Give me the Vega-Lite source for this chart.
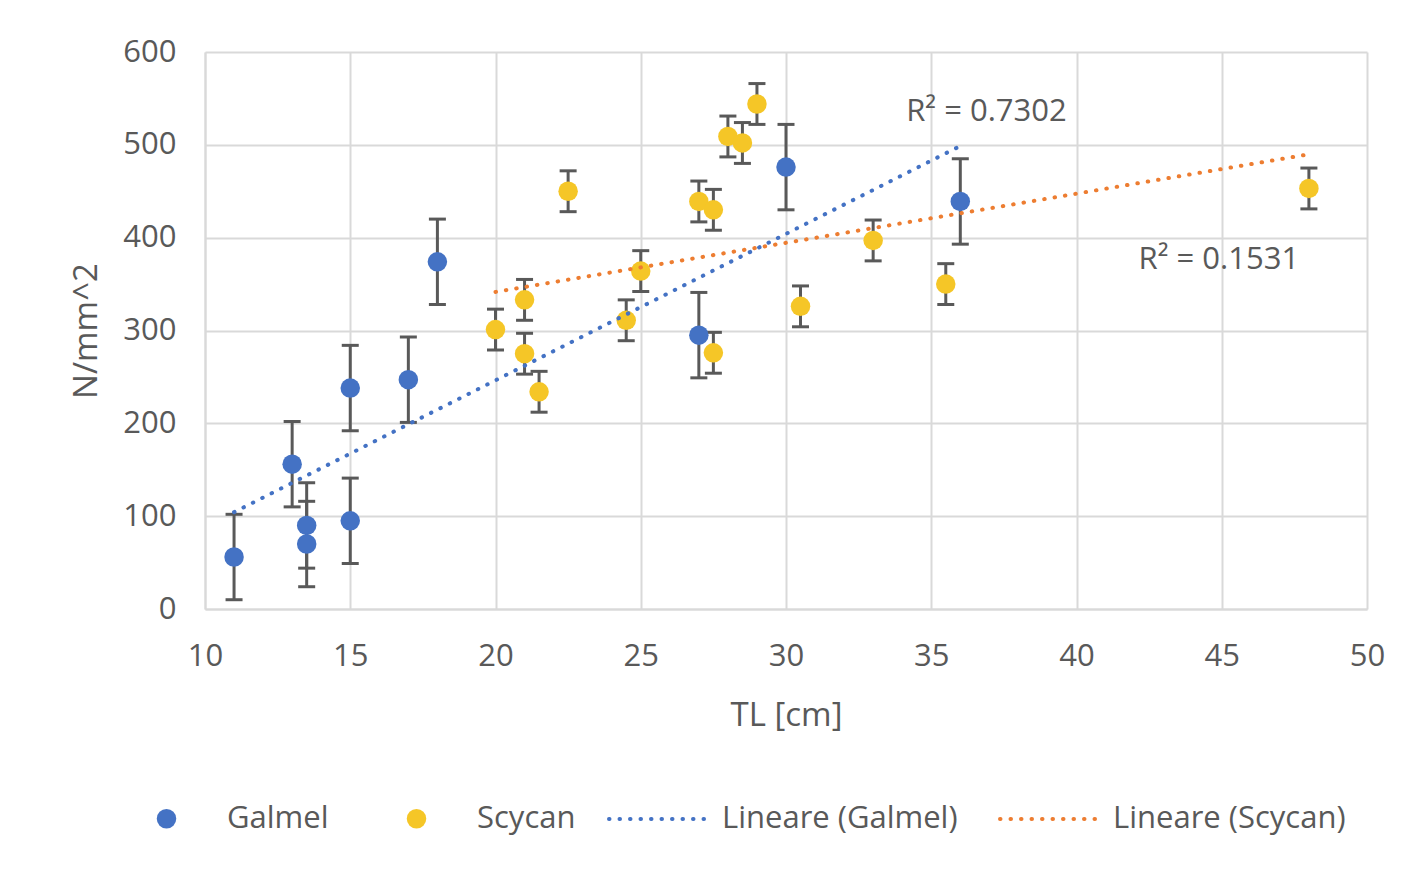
{
  "$schema": "https://vega.github.io/schema/vega-lite/v6.json",
  "autosize": "none",
  "width": 1162,
  "height": 557,
  "padding": {"left": 205, "top": 52, "right": 45, "bottom": 261},
  "background": "white",
  "config": {
    "view": {"stroke": null},
    "font": "Open Sans",
    "axis": {
      "labelFont": "Open Sans",
      "titleFont": "Open Sans",
      "labelColor": "#595959",
      "titleColor": "#595959",
      "labelFontSize": 31,
      "titleFontSize": 33,
      "titleFontWeight": "normal",
      "gridColor": "#d9d9d9",
      "gridWidth": 2,
      "domainColor": "#d9d9d9",
      "domainWidth": 2,
      "ticks": false,
      "labelFlush": false
    },
    "legend": {
      "labelFont": "Open Sans",
      "labelFontSize": 31,
      "labelColor": "#595959",
      "labelLimit": 500
    }
  },
  "datasets": {
    "pts": [
      {"series": "Galmel", "fit": "Lineare (Galmel)", "TL": 11, "val": 56, "lo": 10, "hi": 102},
      {"series": "Galmel", "fit": "Lineare (Galmel)", "TL": 13, "val": 156, "lo": 110, "hi": 202},
      {"series": "Galmel", "fit": "Lineare (Galmel)", "TL": 13.5, "val": 90, "lo": 44, "hi": 136},
      {"series": "Galmel", "fit": "Lineare (Galmel)", "TL": 13.5, "val": 70, "lo": 24, "hi": 116},
      {"series": "Galmel", "fit": "Lineare (Galmel)", "TL": 15, "val": 238, "lo": 192, "hi": 284},
      {"series": "Galmel", "fit": "Lineare (Galmel)", "TL": 15, "val": 95, "lo": 49, "hi": 141},
      {"series": "Galmel", "fit": "Lineare (Galmel)", "TL": 17, "val": 247, "lo": 201, "hi": 293},
      {"series": "Galmel", "fit": "Lineare (Galmel)", "TL": 18, "val": 374, "lo": 328, "hi": 420},
      {"series": "Galmel", "fit": "Lineare (Galmel)", "TL": 27, "val": 295, "lo": 249, "hi": 341},
      {"series": "Galmel", "fit": "Lineare (Galmel)", "TL": 30, "val": 476, "lo": 430, "hi": 522},
      {"series": "Galmel", "fit": "Lineare (Galmel)", "TL": 36, "val": 439, "lo": 393, "hi": 485},
      {"series": "Scycan", "fit": "Lineare (Scycan)", "TL": 20, "val": 301, "lo": 279, "hi": 323},
      {"series": "Scycan", "fit": "Lineare (Scycan)", "TL": 21, "val": 333, "lo": 311, "hi": 355},
      {"series": "Scycan", "fit": "Lineare (Scycan)", "TL": 21, "val": 275, "lo": 253, "hi": 297},
      {"series": "Scycan", "fit": "Lineare (Scycan)", "TL": 21.5, "val": 234, "lo": 212, "hi": 256},
      {"series": "Scycan", "fit": "Lineare (Scycan)", "TL": 22.5, "val": 450, "lo": 428, "hi": 472},
      {"series": "Scycan", "fit": "Lineare (Scycan)", "TL": 24.5, "val": 311, "lo": 289, "hi": 333},
      {"series": "Scycan", "fit": "Lineare (Scycan)", "TL": 25, "val": 364, "lo": 342, "hi": 386},
      {"series": "Scycan", "fit": "Lineare (Scycan)", "TL": 27, "val": 439, "lo": 417, "hi": 461},
      {"series": "Scycan", "fit": "Lineare (Scycan)", "TL": 27.5, "val": 430, "lo": 408, "hi": 452},
      {"series": "Scycan", "fit": "Lineare (Scycan)", "TL": 27.5, "val": 276, "lo": 254, "hi": 298},
      {"series": "Scycan", "fit": "Lineare (Scycan)", "TL": 28, "val": 509, "lo": 487, "hi": 531},
      {"series": "Scycan", "fit": "Lineare (Scycan)", "TL": 28.5, "val": 502, "lo": 480, "hi": 524},
      {"series": "Scycan", "fit": "Lineare (Scycan)", "TL": 29, "val": 544, "lo": 522, "hi": 566},
      {"series": "Scycan", "fit": "Lineare (Scycan)", "TL": 30.5, "val": 326, "lo": 304, "hi": 348},
      {"series": "Scycan", "fit": "Lineare (Scycan)", "TL": 33, "val": 397, "lo": 375, "hi": 419},
      {"series": "Scycan", "fit": "Lineare (Scycan)", "TL": 35.5, "val": 350, "lo": 328, "hi": 372},
      {"series": "Scycan", "fit": "Lineare (Scycan)", "TL": 48, "val": 453, "lo": 431, "hi": 475}
    ],
    "notes": [
      {"label": "R² = 0.7302", "TL": 36.9, "val": 535},
      {"label": "R² = 0.1531", "TL": 44.9, "val": 376}
    ]
  },
  "layer": [
    {
      "data": {"name": "pts"},
      "mark": {"type": "rule", "color": "#595959", "strokeWidth": 3},
      "encoding": {
        "x": {"field": "TL", "type": "quantitative"},
        "y": {"field": "lo", "type": "quantitative"},
        "y2": {"field": "hi"}
      }
    },
    {
      "data": {"name": "pts"},
      "mark": {"type": "tick", "orient": "horizontal", "color": "#595959", "size": 17, "thickness": 3, "opacity": 1},
      "encoding": {
        "x": {"field": "TL", "type": "quantitative"},
        "y": {"field": "lo", "type": "quantitative"}
      }
    },
    {
      "data": {"name": "pts"},
      "mark": {"type": "tick", "orient": "horizontal", "color": "#595959", "size": 17, "thickness": 3, "opacity": 1},
      "encoding": {
        "x": {"field": "TL", "type": "quantitative"},
        "y": {"field": "hi", "type": "quantitative"}
      }
    },
    {
      "data": {"name": "pts"},
      "mark": {"type": "circle", "size": 380, "opacity": 1},
      "encoding": {
        "x": {
          "field": "TL", "type": "quantitative",
          "scale": {"domain": [10, 50], "nice": false, "zero": false},
          "axis": {"values": [10, 15, 20, 25, 30, 35, 40, 45, 50], "title": "TL [cm]", "labelPadding": 32, "titlePadding": 28}
        },
        "y": {
          "field": "val", "type": "quantitative",
          "scale": {"domain": [0, 600], "nice": false},
          "axis": {"values": [0, 100, 200, 300, 400, 500, 600], "title": "N/mm^2", "labelPadding": 29, "titlePadding": 19}
        },
        "color": {
          "field": "series", "type": "nominal",
          "scale": {"domain": ["Galmel", "Scycan"], "range": ["#4472C4", "#F5C627"]},
          "legend": {
            "title": null,
            "orient": "none",
            "direction": "horizontal",
            "legendX": -54,
            "legendY": 751,
            "symbolType": "circle",
            "symbolSize": 380,
            "labelOffset": 45,
            "columnPadding": 72
          }
        }
      }
    },
    {
      "data": {"name": "pts"},
      "transform": [
        {"regression": "val", "on": "TL", "groupby": ["fit"], "method": "linear"}
      ],
      "mark": {"type": "line", "strokeWidth": 4, "strokeDash": [0.5, 10], "strokeCap": "round"},
      "encoding": {
        "x": {"field": "TL", "type": "quantitative"},
        "y": {"field": "val", "type": "quantitative"},
        "stroke": {
          "field": "fit", "type": "nominal",
          "scale": {"domain": ["Lineare (Galmel)", "Lineare (Scycan)"], "range": ["#4472C4", "#ED7D31"]},
          "legend": {
            "title": null,
            "orient": "none",
            "direction": "horizontal",
            "legendX": 402,
            "legendY": 717,
            "symbolType": "stroke",
            "symbolSize": 9216,
            "symbolStrokeWidth": 4,
            "symbolDash": [0.5, 10],
            "labelOffset": 15,
            "columnPadding": 34,
            "encode": {
              "symbols": {"update": {"strokeCap": {"value": "round"}}}
            }
          }
        }
      }
    },
    {
      "data": {"name": "notes"},
      "mark": {"type": "text", "font": "Open Sans", "fontSize": 31, "color": "#595959", "align": "center", "baseline": "middle"},
      "encoding": {
        "x": {"field": "TL", "type": "quantitative"},
        "y": {"field": "val", "type": "quantitative"},
        "text": {"field": "label"}
      }
    }
  ]
}
